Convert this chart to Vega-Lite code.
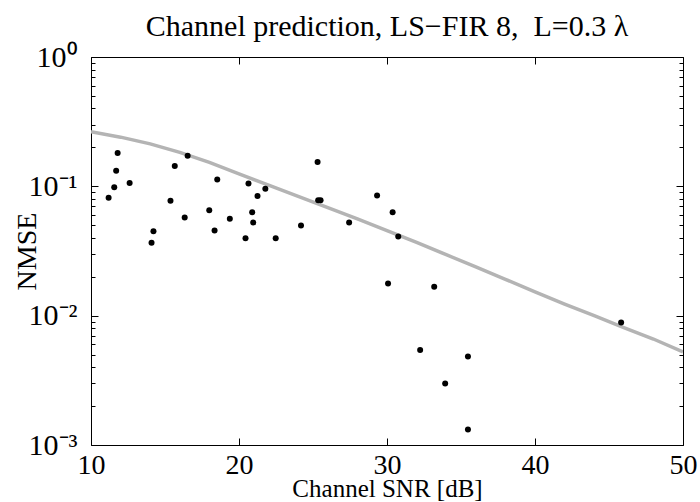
{
  "$schema": "https://vega.github.io/schema/vega-lite/v6.json",
  "autosize": "none",
  "width": 592,
  "height": 388,
  "padding": {"left": 91, "top": 57, "right": 17, "bottom": 57},
  "background": "white",
  "config": {
    "font": "Liberation Serif",
    "view": {"stroke": "black", "strokeWidth": 1},
    "axis": {"grid": false, "domain": false, "labelFont": "Liberation Serif", "titleFont": "Liberation Serif", "labelColor": "black", "titleColor": "black", "tickColor": "black", "titleFontWeight": "normal"}
  },
  "title": {"text": "Channel prediction, LS−FIR 8,\u00a0 L=0.3 λ", "font": "Liberation Serif", "fontSize": 30, "fontWeight": "normal", "color": "black", "offset": 0},
  "datasets": {
    "curve": [
      {"snr": 10, "nmse": 0.264}, {"snr": 12, "nmse": 0.240}, {"snr": 14, "nmse": 0.213},
      {"snr": 16, "nmse": 0.183}, {"snr": 18, "nmse": 0.153}, {"snr": 20, "nmse": 0.125},
      {"snr": 22, "nmse": 0.102}, {"snr": 24, "nmse": 0.0835}, {"snr": 26, "nmse": 0.0685},
      {"snr": 28, "nmse": 0.0560}, {"snr": 30, "nmse": 0.0455}, {"snr": 32, "nmse": 0.0368},
      {"snr": 34, "nmse": 0.0296}, {"snr": 36, "nmse": 0.0238}, {"snr": 38, "nmse": 0.0191},
      {"snr": 40, "nmse": 0.0153}, {"snr": 42, "nmse": 0.0123}, {"snr": 44, "nmse": 0.0100},
      {"snr": 46, "nmse": 0.0081}, {"snr": 48, "nmse": 0.0066}, {"snr": 50, "nmse": 0.00525}
    ],
    "pts": [
      {"snr": 11.19, "nmse": 0.0817}, {"snr": 11.57, "nmse": 0.0982}, {"snr": 11.70, "nmse": 0.132},
      {"snr": 11.80, "nmse": 0.181}, {"snr": 12.61, "nmse": 0.106}, {"snr": 14.09, "nmse": 0.0366},
      {"snr": 14.22, "nmse": 0.045}, {"snr": 15.37, "nmse": 0.0775}, {"snr": 15.66, "nmse": 0.1437},
      {"snr": 16.33, "nmse": 0.0575}, {"snr": 16.53, "nmse": 0.172}, {"snr": 17.99, "nmse": 0.0652},
      {"snr": 18.35, "nmse": 0.0456}, {"snr": 18.53, "nmse": 0.113}, {"snr": 19.38, "nmse": 0.0562},
      {"snr": 20.44, "nmse": 0.0397}, {"snr": 20.64, "nmse": 0.105}, {"snr": 20.89, "nmse": 0.0629},
      {"snr": 20.96, "nmse": 0.0526}, {"snr": 21.25, "nmse": 0.0841}, {"snr": 21.78, "nmse": 0.096},
      {"snr": 22.48, "nmse": 0.0397}, {"snr": 24.19, "nmse": 0.0499}, {"snr": 25.31, "nmse": 0.154},
      {"snr": 25.35, "nmse": 0.0779}, {"snr": 25.51, "nmse": 0.0779}, {"snr": 27.44, "nmse": 0.0526},
      {"snr": 29.33, "nmse": 0.0851}, {"snr": 30.38, "nmse": 0.0629}, {"snr": 30.76, "nmse": 0.041},
      {"snr": 30.07, "nmse": 0.0177}, {"snr": 33.19, "nmse": 0.0167}, {"snr": 32.24, "nmse": 0.00542},
      {"snr": 35.47, "nmse": 0.00483}, {"snr": 33.93, "nmse": 0.00299}, {"snr": 35.47, "nmse": 0.00132},
      {"snr": 45.82, "nmse": 0.00887}
    ]
  },
  "layer": [
    {
      "data": {"name": "curve"},
      "mark": {"type": "line", "color": "#b4b4b4", "strokeWidth": 3.5, "clip": true},
      "encoding": {
        "x": {"field": "snr", "type": "quantitative", "scale": {"domain": [10, 50], "nice": false, "zero": false},
          "axis": {"orient": "bottom", "values": [10, 20, 30, 40, 50], "tickSize": -7, "labelFontSize": 28, "labelPadding": 13, "labelFlush": false, "labelOverlap": false, "title": "Channel SNR [dB]", "titleFontSize": 25, "titlePadding": -3}},
        "y": {"field": "nmse", "type": "quantitative", "scale": {"type": "log", "domain": [0.001, 1], "nice": false},
          "axis": {"orient": "left",
            "values": [0.001,0.002,0.003,0.004,0.005,0.006,0.007,0.008,0.009,0.01,0.02,0.03,0.04,0.05,0.06,0.07,0.08,0.09,0.1,0.2,0.3,0.4,0.5,0.6,0.7,0.8,0.9,1],
            "labelExpr": "datum.value == 1 ? '10⁰' : datum.value == 0.1 ? '10⁻¹' : datum.value == 0.01 ? '10⁻²' : datum.value == 0.001 ? '10⁻³' : ''",
            "tickSize": {"condition": {"test": "datum.value == 1 || datum.value == 0.1 || datum.value == 0.01 || datum.value == 0.001", "value": -7}, "value": -4},
            "labelFontSize": 30, "labelPadding": 21, "labelOverlap": false, "labelFlush": false, "labelBound": false,
            "title": "NMSE", "titleFontSize": 28, "titlePadding": -13}}
      }
    },
    {
      "data": {"name": "pts"},
      "mark": {"type": "circle", "color": "black", "opacity": 1, "size": 36},
      "encoding": {
        "x": {"field": "snr", "type": "quantitative", "scale": {"domain": [10, 50], "nice": false, "zero": false},
          "axis": {"orient": "top", "values": [10, 20, 30, 40, 50], "tickSize": -7, "labels": false, "title": null}},
        "y": {"field": "nmse", "type": "quantitative", "scale": {"type": "log", "domain": [0.001, 1], "nice": false},
          "axis": {"orient": "right",
            "values": [0.001,0.002,0.003,0.004,0.005,0.006,0.007,0.008,0.009,0.01,0.02,0.03,0.04,0.05,0.06,0.07,0.08,0.09,0.1,0.2,0.3,0.4,0.5,0.6,0.7,0.8,0.9,1],
            "tickSize": {"condition": {"test": "datum.value == 1 || datum.value == 0.1 || datum.value == 0.01 || datum.value == 0.001", "value": -7}, "value": -4},
            "labels": false, "title": null}}
      }
    }
  ],
  "resolve": {"axis": {"x": "independent", "y": "independent"}}
}
